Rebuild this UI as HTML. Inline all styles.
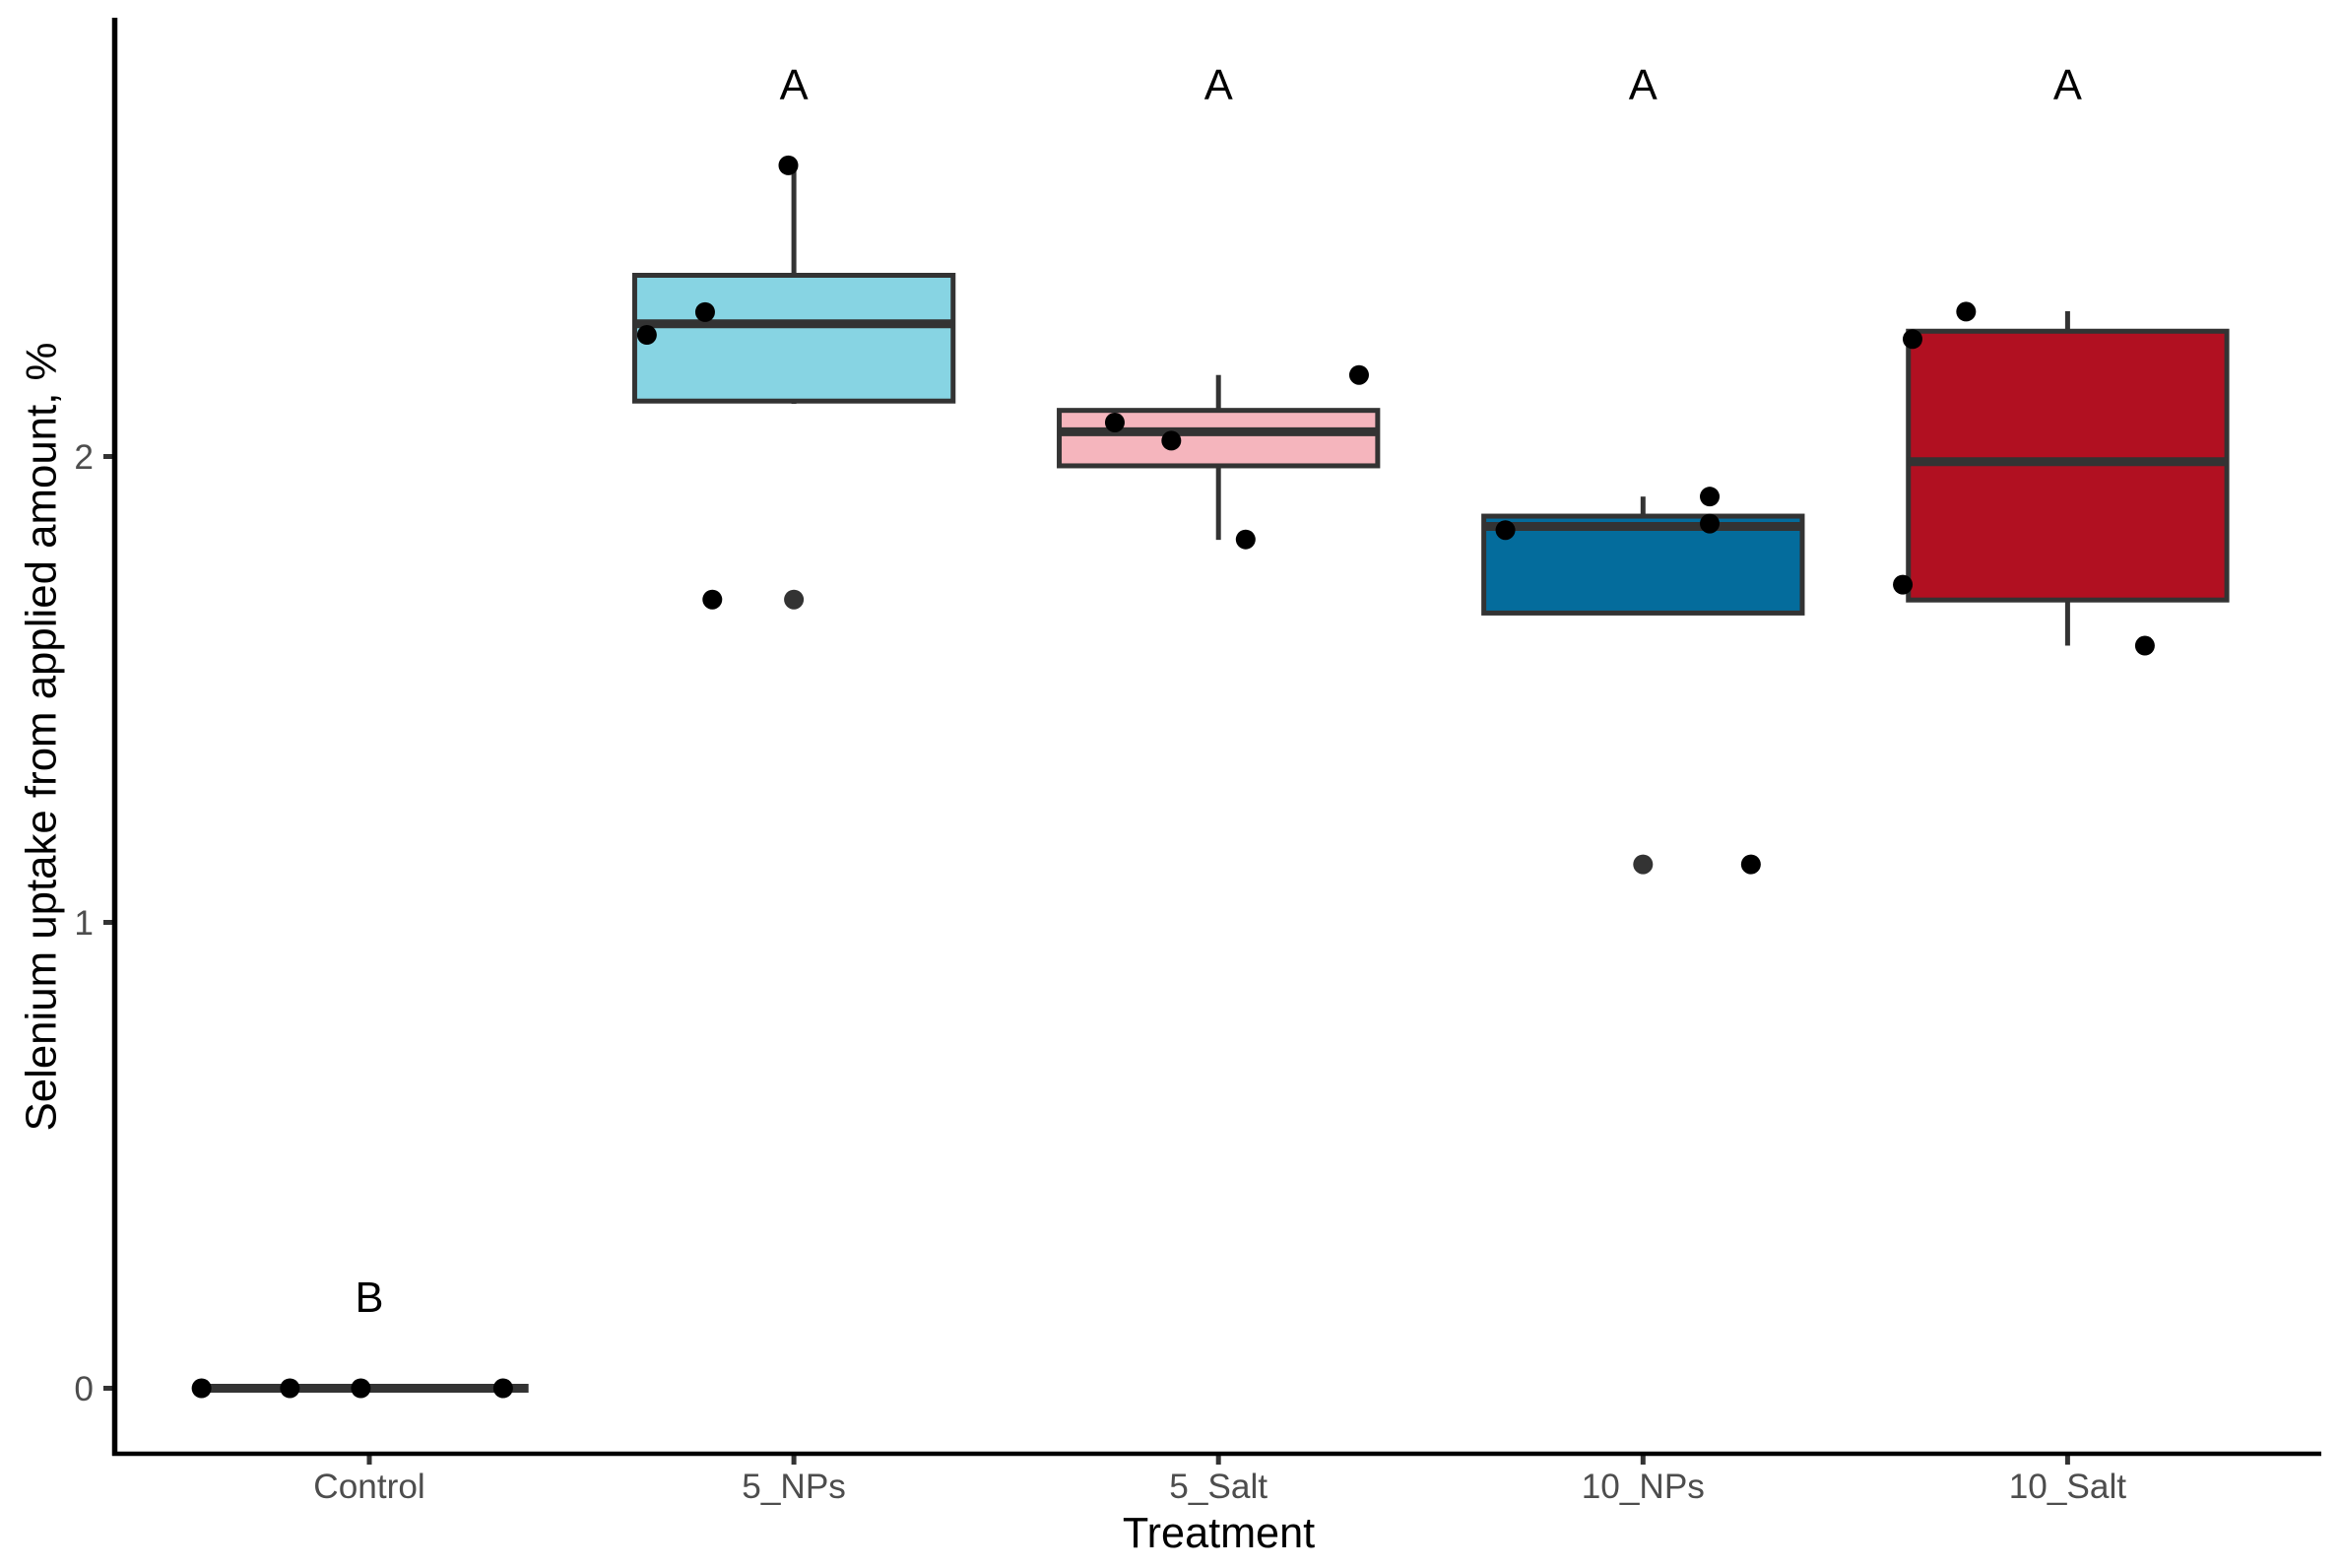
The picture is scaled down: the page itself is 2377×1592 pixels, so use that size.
<!DOCTYPE html>
<html>
<head>
<meta charset="utf-8">
<title>Selenium uptake by treatment</title>
<style>
html,body{margin:0;padding:0;background:#fff;}
svg{display:block;}
text{font-family:"Liberation Sans",Arial,sans-serif;}
</style>
</head>
<body>
<svg id="chart" width="2377" height="1592" viewBox="0 0 2377 1592" xmlns="http://www.w3.org/2000/svg">
<rect x="0" y="0" width="2377" height="1592" fill="#ffffff"/>
<g id="marks"></g>
<g id="axes"></g>
<text x="1237.5" y="1571" font-size="43.2" text-anchor="middle" fill="#000">Treatment</text>
<text transform="translate(56.5,748) rotate(-90)" font-size="43.8" text-anchor="middle" fill="#000">Selenium uptake from applied amount, %</text>
</svg>
<script>
const categories = ['Control', '5_NPs', '5_Salt', '10_NPs', '10_Salt'];
const fills = ['#333333', '#87D4E3', '#F5B5BD', '#046C9C', '#B11021'];
const q1 = [0, 2.119, 1.98, 1.664, 1.692];
const medians = [0, 2.285, 2.053, 1.85, 1.989];
const q3 = [0, 2.389, 2.099, 1.872, 2.269];
const whiskerLow = [0, 2.113, 1.821, 1.664, 1.594];
const whiskerHigh = [0, 2.625, 2.175, 1.914, 2.312];
const outliers = [[], [1.693], [], [1.1245], []];
const pointValues = [
  [0, 0, 0, 0],
  [2.625, 2.31, 2.261, 1.693],
  [2.175, 2.073, 2.034, 1.822],
  [1.914, 1.856, 1.842, 1.1245],
  [2.311, 2.252, 1.725, 1.594]
];
const pointJitter = [
  [-0.395, -0.187, -0.020, 0.315],
  [-0.013, -0.209, -0.346, -0.192],
  [0.331, -0.244, -0.111, 0.064],
  [0.157, 0.157, -0.324, 0.254],
  [-0.239, -0.365, -0.388, 0.182]
];
const groupLetters = ['B', 'A', 'A', 'A', 'A'];
const letterValues = [0.197, 2.799, 2.799, 2.799, 2.799];
const yTicks = [0, 1, 2];

const NS = 'http://www.w3.org/2000/svg';
const marks = document.getElementById('marks');
const axes = document.getElementById('axes');
const xScale = function (i) { return 375 + 431.1 * i; };
const yScale = function (v) { return 1409.5 - 473 * v; };
const boxHalf = 0.375 * 431.1;

function make(parent, tag, attrs, content) {
  const el = document.createElementNS(NS, tag);
  Object.keys(attrs).forEach(function (k) { el.setAttribute(k, attrs[k]); });
  if (content !== undefined) el.textContent = content;
  parent.appendChild(el);
  return el;
}

categories.forEach(function (cat, i) {
  const cx = xScale(i);
  const slug = cat.toLowerCase().replace('_', '-');
  const group = make(marks, 'g', {});
  
  

  const whiskerUp = make(group, 'line', { x1: cx, x2: cx, y1: yScale(q3[i]), y2: yScale(whiskerHigh[i]), stroke: '#333333', 'stroke-width': 5 });
  
  

  const whiskerDown = make(group, 'line', { x1: cx, x2: cx, y1: yScale(q1[i]), y2: yScale(whiskerLow[i]), stroke: '#333333', 'stroke-width': 5 });
  
  

  const box = make(group, 'rect', { x: cx - boxHalf, y: yScale(q3[i]), width: boxHalf * 2, height: yScale(q1[i]) - yScale(q3[i]), fill: fills[i], stroke: '#333333', 'stroke-width': 5 });
  
  

  const median = make(group, 'line', { x1: cx - boxHalf, x2: cx + boxHalf, y1: yScale(medians[i]), y2: yScale(medians[i]), stroke: '#333333', 'stroke-width': 9 });
  
  

  outliers[i].forEach(function (v) {
    const o = make(group, 'circle', { cx: cx, cy: yScale(v), r: 10, fill: '#333333' });
    
    
  });

  pointValues[i].forEach(function (v, j) {
    const p = make(group, 'circle', { cx: cx + pointJitter[i][j] * 431.3, cy: yScale(v), r: 10, fill: '#000000' });
    
    
  });

  const letter = make(group, 'text', { x: cx, y: yScale(letterValues[i]) + 15.5, 'font-size': 43.5, 'text-anchor': 'middle', fill: '#000' }, groupLetters[i]);
  
  

  const tick = make(axes, 'line', { x1: cx, x2: cx, y1: 1476, y2: 1487, stroke: '#333333', 'stroke-width': 5 });
  
  

  const label = make(axes, 'text', { x: cx, y: 1521, 'font-size': 35.2, 'text-anchor': 'middle', fill: '#4D4D4D' }, cat);
  
  
});

yTicks.forEach(function (v) {
  const y = yScale(v);
  const tick = make(axes, 'line', { x1: 105, x2: 116, y1: y, y2: y, stroke: '#333333', 'stroke-width': 5 });
  
  

  const label = make(axes, 'text', { x: 95, y: y + 12.5, 'font-size': 35.2, 'text-anchor': 'end', fill: '#4D4D4D' }, String(v));
  
  
});

const yAxis = make(axes, 'line', { x1: 116.5, x2: 116.5, y1: 18, y2: 1478, stroke: '#000000', 'stroke-width': 5.5 });



const xAxis = make(axes, 'line', { x1: 114, x2: 2357, y1: 1476, y2: 1476, stroke: '#000000', 'stroke-width': 4.5 });


</script>
</body>
</html>
